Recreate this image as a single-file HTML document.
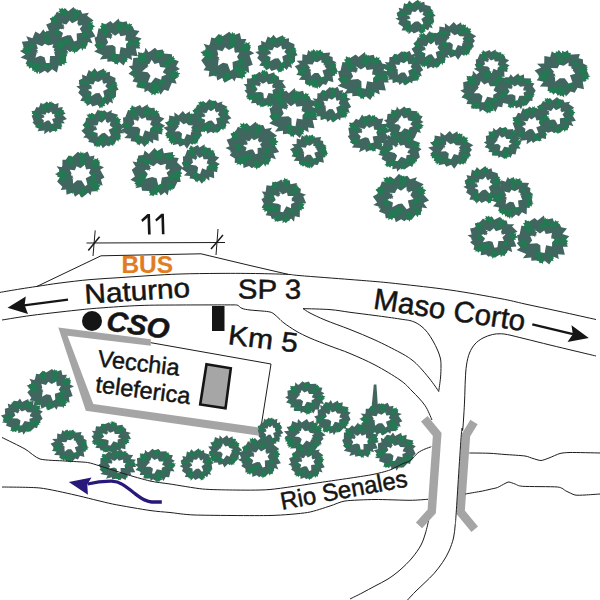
<!DOCTYPE html>
<html><head><meta charset="utf-8"><title>Map</title>
<style>html,body{margin:0;padding:0;background:#fff;}svg{display:block;}</style>
</head><body>
<svg width="600" height="600" viewBox="0 0 600 600">
<defs><g id="tr0"><polygon points="0.944,0.015 0.849,0.060 0.852,0.425 0.662,0.414 0.688,0.614 0.547,0.595 0.482,0.902 0.284,0.759 0.114,0.925 -0.007,0.823 -0.240,0.968 -0.232,0.757 -0.511,0.835 -0.515,0.696 -0.776,0.519 -0.719,0.357 -0.985,0.246 -0.787,0.107 -1.009,-0.039 -0.826,-0.141 -0.934,-0.455 -0.669,-0.485 -0.755,-0.694 -0.505,-0.608 -0.390,-0.906 -0.207,-0.790 -0.067,-1.004 0.032,-0.814 0.181,-0.967 0.250,-0.771 0.497,-0.837 0.459,-0.645 0.851,-0.546 0.747,-0.394 0.875,-0.297 0.825,-0.129" fill="#40665f"/><polygon points="0.537,0.179 0.579,0.113 0.543,0.044 0.664,0.042 0.694,-0.037 0.773,0.027 0.840,-0.015 0.850,0.053 0.941,0.067 0.870,0.126 0.897,0.189 0.818,0.187 0.783,0.283 0.717,0.231 0.612,0.292 0.608,0.214" fill="#227a52"/><polygon points="0.400,0.389 0.479,0.337 0.472,0.244 0.606,0.300 0.677,0.228 0.733,0.337 0.826,0.323 0.805,0.402 0.898,0.461 0.792,0.492 0.790,0.574 0.704,0.534 0.620,0.622 0.572,0.533 0.428,0.549 0.461,0.462" fill="#227a52"/><polygon points="-0.325,0.463 -0.259,0.534 -0.166,0.511 -0.201,0.657 -0.116,0.717 -0.217,0.791 -0.187,0.883 -0.271,0.875 -0.315,0.979 -0.364,0.876 -0.447,0.888 -0.421,0.795 -0.524,0.724 -0.442,0.661 -0.482,0.517 -0.389,0.536" fill="#227a52"/><polygon points="-0.348,0.646 -0.431,0.679 -0.442,0.765 -0.554,0.687 -0.634,0.739 -0.663,0.629 -0.752,0.624 -0.716,0.555 -0.790,0.483 -0.687,0.476 -0.669,0.401 -0.599,0.454 -0.505,0.389 -0.478,0.481 -0.343,0.494 -0.390,0.567" fill="#227a52"/><polygon points="-0.585,0.067 -0.669,0.058 -0.717,0.126 -0.778,0.011 -0.867,0.021 -0.844,-0.085 -0.916,-0.129 -0.857,-0.171 -0.887,-0.264 -0.797,-0.225 -0.749,-0.281 -0.713,-0.205 -0.605,-0.218 -0.623,-0.130 -0.514,-0.059 -0.586,-0.018" fill="#227a52"/><polygon points="-0.081,-0.650 -0.079,-0.725 -0.141,-0.762 -0.044,-0.822 -0.057,-0.900 0.038,-0.886 0.072,-0.952 0.112,-0.902 0.192,-0.934 0.163,-0.852 0.214,-0.814 0.150,-0.778 0.168,-0.684 0.089,-0.694 0.033,-0.595 -0.007,-0.656" fill="#227a52"/><polygon points="0.172,-0.787 0.258,-0.807 0.282,-0.890 0.380,-0.796 0.466,-0.835 0.478,-0.722 0.564,-0.704 0.519,-0.642 0.580,-0.560 0.478,-0.568 0.449,-0.498 0.388,-0.561 0.286,-0.512 0.274,-0.605 0.143,-0.640 0.200,-0.704" fill="#227a52"/><polygon points="0.478,-0.345 0.537,-0.326 0.582,-0.367 0.607,-0.275 0.673,-0.267 0.639,-0.195 0.684,-0.152 0.635,-0.131 0.642,-0.059 0.583,-0.102 0.540,-0.069 0.526,-0.130 0.446,-0.137 0.473,-0.198 0.407,-0.266 0.465,-0.284" fill="#227a52"/><polygon points="0.231,0.529 0.190,0.591 0.222,0.656 0.108,0.655 0.078,0.728 0.005,0.666 -0.058,0.704 -0.066,0.640 -0.151,0.625 -0.083,0.571 -0.106,0.511 -0.032,0.515 0.002,0.425 0.064,0.476 0.164,0.422 0.166,0.494" fill="#227a52"/><polygon points="-0.569,-0.059 -0.600,-0.115 -0.662,-0.116 -0.617,-0.203 -0.662,-0.255 -0.585,-0.286 -0.590,-0.349 -0.538,-0.331 -0.493,-0.390 -0.478,-0.317 -0.423,-0.311 -0.455,-0.256 -0.400,-0.194 -0.462,-0.167 -0.460,-0.069 -0.516,-0.096" fill="#227a52"/><polygon points="-0.052,-0.466 -0.023,-0.519 -0.054,-0.570 0.039,-0.577 0.059,-0.640 0.123,-0.594 0.172,-0.629 0.183,-0.578 0.254,-0.571 0.202,-0.522 0.225,-0.475 0.165,-0.473 0.143,-0.397 0.089,-0.434 0.011,-0.383 0.004,-0.442" fill="#227a52"/><polygon points="0.530,0.271 0.559,0.318 0.612,0.315 0.577,0.394 0.617,0.438 0.554,0.470 0.560,0.525 0.515,0.512 0.479,0.566 0.464,0.503 0.417,0.501 0.441,0.450 0.392,0.399 0.444,0.372 0.438,0.285 0.487,0.306" fill="#40665f"/><polygon points="-0.194,-0.487 -0.217,-0.537 -0.271,-0.541 -0.227,-0.615 -0.261,-0.663 -0.195,-0.687 -0.194,-0.743 -0.151,-0.724 -0.109,-0.775 -0.101,-0.710 -0.055,-0.702 -0.085,-0.655 -0.042,-0.598 -0.097,-0.577 -0.101,-0.491 -0.147,-0.517" fill="#40665f"/><polygon points="-0.597,0.295 -0.653,0.291 -0.681,0.336 -0.726,0.262 -0.784,0.270 -0.773,0.200 -0.823,0.173 -0.785,0.144 -0.809,0.083 -0.749,0.107 -0.720,0.070 -0.693,0.119 -0.622,0.108 -0.630,0.167 -0.556,0.211 -0.601,0.240" fill="#40665f"/><polygon points="-0.211,-0.749 -0.166,-0.781 -0.174,-0.834 -0.092,-0.806 -0.052,-0.849 -0.015,-0.789 0.040,-0.799 0.030,-0.753 0.087,-0.722 0.025,-0.701 0.027,-0.654 -0.025,-0.675 -0.072,-0.621 -0.104,-0.671 -0.190,-0.658 -0.173,-0.709" fill="#40665f"/><polygon points="0.386,0.456 0.425,0.496 0.476,0.481 0.460,0.566 0.509,0.599 0.454,0.644 0.472,0.697 0.425,0.694 0.402,0.755 0.373,0.697 0.327,0.705 0.340,0.651 0.280,0.612 0.325,0.573 0.300,0.490 0.352,0.500" fill="#40665f"/><polygon points="-0.006,-0.369 0.128,-0.283 0.342,-0.346 0.289,-0.208 0.475,-0.097 0.369,0.015 0.409,0.181 0.204,0.180 0.186,0.487 0.042,0.480 -0.019,0.231 -0.186,0.167 -0.389,0.255 -0.334,0.057 -0.458,-0.099 -0.285,-0.146 -0.345,-0.349 -0.119,-0.251" fill="#fff"/><polygon points="-0.546,-0.172 -0.483,-0.175 -0.456,-0.230 -0.397,-0.152 -0.331,-0.169 -0.335,-0.087 -0.276,-0.063 -0.315,-0.025 -0.281,0.041 -0.353,0.021 -0.381,0.068 -0.418,0.016 -0.496,0.037 -0.494,-0.030 -0.584,-0.071 -0.535,-0.109" fill="#40665f"/><polygon points="0.547,-0.187 0.537,-0.140 0.572,-0.112 0.504,-0.081 0.504,-0.031 0.445,-0.047 0.417,-0.007 0.396,-0.042 0.342,-0.027 0.369,-0.077 0.341,-0.105 0.386,-0.123 0.385,-0.184 0.434,-0.171 0.480,-0.230 0.499,-0.189" fill="#40665f"/></g><g id="tr1"><polygon points="0.959,0.017 0.777,0.072 0.904,0.436 0.687,0.460 0.740,0.707 0.576,0.613 0.421,0.882 0.310,0.774 0.076,0.940 0.011,0.810 -0.202,0.920 -0.289,0.805 -0.506,0.850 -0.484,0.621 -0.790,0.587 -0.753,0.407 -0.924,0.243 -0.782,0.111 -1.024,-0.076 -0.860,-0.117 -0.923,-0.399 -0.688,-0.449 -0.736,-0.632 -0.553,-0.665 -0.416,-0.854 -0.306,-0.781 -0.078,-0.958 0.029,-0.799 0.268,-0.941 0.320,-0.776 0.517,-0.762 0.559,-0.596 0.821,-0.595 0.729,-0.485 0.948,-0.244 0.767,-0.145" fill="#40665f"/><polygon points="0.770,-0.222 0.826,-0.161 0.904,-0.179 0.873,-0.056 0.944,-0.004 0.858,0.057 0.882,0.136 0.811,0.127 0.773,0.215 0.733,0.127 0.662,0.137 0.685,0.058 0.599,-0.003 0.669,-0.055 0.637,-0.177 0.716,-0.160" fill="#227a52"/><polygon points="0.407,0.431 0.454,0.516 0.549,0.517 0.480,0.650 0.548,0.729 0.432,0.777 0.438,0.874 0.359,0.845 0.291,0.935 0.268,0.824 0.185,0.815 0.233,0.731 0.149,0.637 0.245,0.596 0.241,0.446 0.327,0.487" fill="#227a52"/><polygon points="0.061,0.601 0.098,0.671 0.175,0.673 0.117,0.779 0.170,0.844 0.076,0.881 0.079,0.959 0.015,0.934 -0.042,1.006 -0.057,0.916 -0.125,0.907 -0.085,0.840 -0.150,0.763 -0.072,0.731 -0.073,0.610 -0.004,0.645" fill="#227a52"/><polygon points="-0.321,0.420 -0.349,0.508 -0.287,0.574 -0.423,0.614 -0.433,0.713 -0.542,0.664 -0.605,0.732 -0.637,0.659 -0.744,0.671 -0.682,0.583 -0.731,0.519 -0.641,0.497 -0.632,0.378 -0.541,0.416 -0.440,0.316 -0.412,0.402" fill="#227a52"/><polygon points="-0.641,-0.336 -0.673,-0.408 -0.750,-0.415 -0.685,-0.517 -0.734,-0.585 -0.638,-0.615 -0.636,-0.694 -0.575,-0.665 -0.514,-0.733 -0.503,-0.642 -0.436,-0.629 -0.481,-0.565 -0.420,-0.484 -0.500,-0.457 -0.507,-0.337 -0.573,-0.376" fill="#227a52"/><polygon points="-0.035,-0.614 -0.122,-0.629 -0.177,-0.563 -0.231,-0.688 -0.325,-0.686 -0.291,-0.794 -0.363,-0.846 -0.297,-0.885 -0.321,-0.984 -0.230,-0.936 -0.176,-0.990 -0.145,-0.907 -0.031,-0.912 -0.057,-0.821 0.050,-0.738 -0.029,-0.701" fill="#227a52"/><polygon points="0.313,-0.468 0.260,-0.527 0.184,-0.509 0.214,-0.627 0.145,-0.678 0.228,-0.737 0.205,-0.813 0.273,-0.805 0.311,-0.889 0.349,-0.805 0.417,-0.814 0.395,-0.738 0.479,-0.679 0.411,-0.629 0.442,-0.511 0.366,-0.527" fill="#227a52"/><polygon points="0.596,0.193 0.594,0.258 0.649,0.291 0.564,0.343 0.576,0.411 0.494,0.399 0.464,0.457 0.429,0.414 0.359,0.442 0.384,0.371 0.339,0.337 0.395,0.305 0.379,0.224 0.448,0.232 0.496,0.145 0.532,0.198" fill="#227a52"/><polygon points="-0.096,0.516 -0.163,0.541 -0.174,0.610 -0.263,0.546 -0.328,0.586 -0.350,0.497 -0.421,0.491 -0.392,0.436 -0.450,0.377 -0.367,0.373 -0.351,0.313 -0.295,0.357 -0.218,0.306 -0.198,0.380 -0.089,0.394 -0.128,0.452" fill="#227a52"/><polygon points="-0.590,0.141 -0.622,0.084 -0.686,0.083 -0.640,-0.007 -0.685,-0.060 -0.607,-0.092 -0.611,-0.158 -0.557,-0.138 -0.511,-0.200 -0.496,-0.124 -0.439,-0.118 -0.472,-0.061 -0.415,0.002 -0.480,0.030 -0.478,0.131 -0.536,0.104" fill="#227a52"/><polygon points="0.015,-0.627 0.089,-0.643 0.110,-0.714 0.193,-0.633 0.267,-0.666 0.276,-0.569 0.350,-0.553 0.311,-0.500 0.362,-0.430 0.275,-0.438 0.250,-0.378 0.198,-0.432 0.110,-0.391 0.101,-0.471 -0.011,-0.501 0.039,-0.556" fill="#227a52"/><polygon points="-0.243,-0.437 -0.272,-0.485 -0.326,-0.482 -0.291,-0.561 -0.331,-0.604 -0.268,-0.636 -0.274,-0.692 -0.229,-0.678 -0.194,-0.733 -0.178,-0.670 -0.131,-0.668 -0.155,-0.617 -0.106,-0.566 -0.158,-0.539 -0.151,-0.452 -0.200,-0.473" fill="#40665f"/><polygon points="0.111,0.530 0.167,0.529 0.191,0.482 0.242,0.552 0.300,0.539 0.295,0.610 0.346,0.633 0.311,0.665 0.340,0.723 0.278,0.704 0.252,0.744 0.221,0.697 0.152,0.714 0.155,0.655 0.077,0.617 0.120,0.585" fill="#40665f"/><polygon points="0.329,0.477 0.380,0.456 0.385,0.403 0.458,0.448 0.507,0.415 0.529,0.482 0.585,0.484 0.565,0.527 0.614,0.570 0.549,0.576 0.540,0.623 0.494,0.591 0.436,0.633 0.416,0.577 0.330,0.571 0.357,0.525" fill="#40665f"/><polygon points="-0.621,0.167 -0.674,0.185 -0.682,0.238 -0.752,0.187 -0.803,0.218 -0.821,0.149 -0.877,0.144 -0.854,0.102 -0.900,0.056 -0.835,0.054 -0.823,0.008 -0.779,0.043 -0.719,0.005 -0.702,0.062 -0.617,0.074 -0.647,0.117" fill="#40665f"/><polygon points="-0.040,-0.664 0.012,-0.684 0.018,-0.737 0.090,-0.690 0.139,-0.722 0.160,-0.654 0.216,-0.651 0.195,-0.609 0.243,-0.564 0.178,-0.560 0.168,-0.514 0.122,-0.546 0.063,-0.506 0.045,-0.562 -0.041,-0.571 -0.013,-0.616" fill="#40665f"/><polygon points="0.010,-0.408 0.097,-0.271 0.336,-0.357 0.291,-0.206 0.475,-0.112 0.351,0.009 0.413,0.189 0.195,0.180 0.154,0.475 0.035,0.494 -0.041,0.219 -0.176,0.188 -0.420,0.243 -0.331,0.071 -0.479,-0.087 -0.294,-0.162 -0.338,-0.349 -0.137,-0.260" fill="#fff"/><polygon points="-0.420,-0.369 -0.361,-0.345 -0.313,-0.384 -0.292,-0.288 -0.226,-0.275 -0.264,-0.203 -0.220,-0.157 -0.272,-0.139 -0.269,-0.064 -0.326,-0.112 -0.371,-0.082 -0.382,-0.145 -0.462,-0.158 -0.432,-0.219 -0.496,-0.293 -0.436,-0.308" fill="#40665f"/><polygon points="0.477,-0.311 0.479,-0.263 0.521,-0.245 0.463,-0.197 0.476,-0.149 0.415,-0.149 0.397,-0.103 0.369,-0.132 0.320,-0.103 0.334,-0.158 0.299,-0.178 0.338,-0.207 0.321,-0.265 0.372,-0.266 0.401,-0.335 0.430,-0.300" fill="#40665f"/></g><g id="tr2"><polygon points="0.992,0.101 0.810,0.134 0.937,0.442 0.682,0.460 0.744,0.643 0.548,0.583 0.436,0.925 0.233,0.799 0.117,0.928 -0.008,0.826 -0.246,0.891 -0.268,0.759 -0.570,0.850 -0.476,0.652 -0.857,0.562 -0.735,0.441 -0.897,0.285 -0.843,0.220 -0.946,-0.024 -0.856,-0.075 -0.850,-0.439 -0.725,-0.433 -0.754,-0.693 -0.606,-0.638 -0.421,-0.826 -0.299,-0.741 -0.101,-0.984 -0.037,-0.814 0.239,-0.932 0.334,-0.743 0.524,-0.759 0.612,-0.626 0.831,-0.621 0.702,-0.364 0.972,-0.321 0.838,-0.127" fill="#40665f"/><polygon points="0.585,-0.232 0.671,-0.247 0.700,-0.327 0.792,-0.230 0.879,-0.264 0.885,-0.152 0.969,-0.129 0.921,-0.070 0.977,0.014 0.877,0.000 0.845,0.069 0.788,0.003 0.684,0.046 0.677,-0.047 0.549,-0.087 0.609,-0.148" fill="#227a52"/><polygon points="0.242,0.547 0.316,0.535 0.342,0.466 0.420,0.551 0.495,0.523 0.498,0.619 0.570,0.640 0.528,0.690 0.575,0.763 0.489,0.750 0.461,0.808 0.413,0.751 0.323,0.787 0.318,0.707 0.210,0.670 0.262,0.619" fill="#227a52"/><polygon points="-0.031,0.564 0.051,0.588 0.110,0.530 0.149,0.655 0.239,0.663 0.196,0.763 0.259,0.820 0.192,0.850 0.205,0.948 0.123,0.893 0.066,0.939 0.044,0.857 -0.065,0.850 -0.031,0.765 -0.125,0.675 -0.046,0.648" fill="#227a52"/><polygon points="-0.475,0.245 -0.527,0.304 -0.502,0.376 -0.621,0.360 -0.663,0.432 -0.730,0.357 -0.801,0.388 -0.801,0.320 -0.887,0.292 -0.809,0.246 -0.825,0.180 -0.748,0.194 -0.700,0.106 -0.643,0.167 -0.531,0.124 -0.539,0.200" fill="#227a52"/><polygon points="-0.472,-0.287 -0.563,-0.305 -0.622,-0.235 -0.677,-0.367 -0.777,-0.366 -0.741,-0.480 -0.816,-0.535 -0.746,-0.576 -0.770,-0.682 -0.675,-0.629 -0.617,-0.686 -0.584,-0.598 -0.465,-0.602 -0.493,-0.507 -0.381,-0.417 -0.464,-0.380" fill="#227a52"/><polygon points="0.099,-0.558 0.032,-0.589 -0.026,-0.547 -0.044,-0.658 -0.121,-0.676 -0.071,-0.757 -0.118,-0.813 -0.057,-0.831 -0.056,-0.917 0.007,-0.859 0.063,-0.891 0.071,-0.818 0.164,-0.799 0.124,-0.731 0.193,-0.641 0.123,-0.628" fill="#227a52"/><polygon points="0.213,-0.553 0.212,-0.631 0.145,-0.668 0.245,-0.736 0.227,-0.818 0.328,-0.808 0.360,-0.879 0.405,-0.828 0.489,-0.866 0.462,-0.778 0.518,-0.740 0.451,-0.699 0.475,-0.600 0.391,-0.607 0.337,-0.500 0.291,-0.562" fill="#227a52"/><polygon points="0.615,-0.195 0.633,-0.123 0.703,-0.104 0.627,-0.019 0.661,0.053 0.566,0.065 0.552,0.138 0.499,0.101 0.430,0.155 0.436,0.068 0.375,0.045 0.427,-0.008 0.384,-0.093 0.463,-0.106 0.489,-0.217 0.545,-0.170" fill="#227a52"/><polygon points="0.200,0.618 0.135,0.658 0.138,0.733 0.032,0.685 -0.027,0.741 -0.069,0.652 -0.145,0.661 -0.126,0.598 -0.199,0.548 -0.113,0.526 -0.110,0.460 -0.042,0.494 0.028,0.425 0.065,0.498 0.181,0.489 0.153,0.558" fill="#227a52"/><polygon points="-0.614,-0.194 -0.614,-0.256 -0.667,-0.286 -0.588,-0.338 -0.601,-0.403 -0.522,-0.393 -0.496,-0.449 -0.461,-0.408 -0.395,-0.437 -0.417,-0.369 -0.373,-0.338 -0.426,-0.306 -0.408,-0.229 -0.474,-0.235 -0.518,-0.151 -0.553,-0.201" fill="#227a52"/><polygon points="-0.194,-0.588 -0.144,-0.624 -0.150,-0.684 -0.061,-0.650 -0.016,-0.698 0.022,-0.628 0.083,-0.638 0.070,-0.586 0.131,-0.549 0.063,-0.528 0.063,-0.474 0.006,-0.499 -0.047,-0.440 -0.080,-0.497 -0.174,-0.485 -0.154,-0.542" fill="#227a52"/><polygon points="0.203,0.460 0.227,0.510 0.281,0.511 0.239,0.587 0.275,0.634 0.209,0.660 0.211,0.716 0.167,0.698 0.127,0.750 0.117,0.685 0.070,0.679 0.099,0.631 0.054,0.576 0.109,0.553 0.110,0.466 0.157,0.491" fill="#40665f"/><polygon points="-0.556,-0.491 -0.535,-0.543 -0.570,-0.584 -0.485,-0.603 -0.475,-0.661 -0.411,-0.629 -0.370,-0.668 -0.354,-0.623 -0.289,-0.628 -0.330,-0.577 -0.304,-0.538 -0.359,-0.528 -0.370,-0.457 -0.424,-0.483 -0.489,-0.426 -0.502,-0.478" fill="#40665f"/><polygon points="0.479,-0.543 0.531,-0.522 0.572,-0.556 0.591,-0.472 0.649,-0.461 0.617,-0.397 0.655,-0.356 0.611,-0.340 0.614,-0.275 0.564,-0.317 0.525,-0.291 0.515,-0.346 0.445,-0.358 0.470,-0.411 0.414,-0.476 0.466,-0.489" fill="#40665f"/><polygon points="0.506,-0.338 0.561,-0.341 0.584,-0.389 0.637,-0.320 0.695,-0.335 0.692,-0.264 0.744,-0.242 0.710,-0.209 0.741,-0.152 0.677,-0.169 0.653,-0.128 0.620,-0.174 0.552,-0.156 0.553,-0.215 0.474,-0.251 0.516,-0.284" fill="#40665f"/><polygon points="0.409,0.637 0.375,0.681 0.397,0.730 0.310,0.726 0.284,0.779 0.232,0.731 0.182,0.757 0.179,0.710 0.115,0.697 0.168,0.659 0.153,0.615 0.209,0.619 0.239,0.555 0.284,0.593 0.362,0.556 0.360,0.610" fill="#40665f"/><polygon points="0.016,-0.388 0.096,-0.265 0.315,-0.339 0.320,-0.185 0.457,-0.088 0.384,0.021 0.413,0.192 0.186,0.186 0.187,0.495 0.034,0.497 -0.024,0.221 -0.158,0.158 -0.431,0.228 -0.356,0.081 -0.460,-0.087 -0.312,-0.136 -0.352,-0.364 -0.122,-0.247" fill="#fff"/><polygon points="-0.420,-0.369 -0.361,-0.345 -0.313,-0.384 -0.292,-0.288 -0.226,-0.275 -0.264,-0.203 -0.220,-0.157 -0.272,-0.139 -0.269,-0.064 -0.326,-0.112 -0.371,-0.082 -0.382,-0.145 -0.462,-0.158 -0.432,-0.219 -0.496,-0.293 -0.436,-0.308" fill="#40665f"/><polygon points="0.477,-0.311 0.479,-0.263 0.521,-0.245 0.463,-0.197 0.476,-0.149 0.415,-0.149 0.397,-0.103 0.369,-0.132 0.320,-0.103 0.334,-0.158 0.299,-0.178 0.338,-0.207 0.321,-0.265 0.372,-0.266 0.401,-0.335 0.430,-0.300" fill="#40665f"/></g><g id="tr3"><polygon points="1.021,0.021 0.837,0.071 0.892,0.434 0.725,0.468 0.709,0.723 0.542,0.608 0.369,0.858 0.193,0.813 0.116,0.944 0.049,0.817 -0.259,0.920 -0.301,0.727 -0.504,0.795 -0.513,0.589 -0.794,0.595 -0.732,0.387 -0.942,0.324 -0.835,0.219 -0.959,-0.060 -0.791,-0.184 -0.934,-0.380 -0.677,-0.397 -0.764,-0.667 -0.558,-0.555 -0.442,-0.845 -0.316,-0.798 -0.149,-0.930 -0.021,-0.822 0.253,-0.944 0.358,-0.783 0.627,-0.829 0.638,-0.595 0.827,-0.568 0.730,-0.411 0.938,-0.228 0.862,-0.123" fill="#40665f"/><polygon points="0.587,-0.095 0.593,-0.187 0.518,-0.236 0.640,-0.306 0.627,-0.403 0.743,-0.381 0.788,-0.461 0.836,-0.398 0.936,-0.434 0.897,-0.335 0.959,-0.285 0.878,-0.243 0.896,-0.127 0.799,-0.142 0.726,-0.022 0.679,-0.099" fill="#227a52"/><polygon points="0.467,0.423 0.521,0.501 0.614,0.492 0.560,0.628 0.634,0.698 0.526,0.756 0.542,0.849 0.462,0.829 0.405,0.924 0.372,0.818 0.290,0.818 0.328,0.731 0.238,0.649 0.326,0.599 0.308,0.454 0.395,0.486" fill="#227a52"/><polygon points="0.016,0.600 0.003,0.678 0.064,0.726 -0.047,0.776 -0.044,0.860 -0.142,0.832 -0.187,0.897 -0.222,0.838 -0.311,0.861 -0.269,0.779 -0.318,0.731 -0.245,0.702 -0.251,0.601 -0.169,0.622 -0.096,0.525 -0.062,0.595" fill="#227a52"/><polygon points="-0.347,0.480 -0.402,0.533 -0.384,0.605 -0.498,0.579 -0.545,0.646 -0.603,0.567 -0.676,0.591 -0.669,0.525 -0.751,0.491 -0.671,0.452 -0.681,0.387 -0.608,0.407 -0.553,0.325 -0.503,0.390 -0.390,0.358 -0.404,0.431" fill="#227a52"/><polygon points="-0.670,-0.006 -0.739,-0.073 -0.830,-0.046 -0.804,-0.191 -0.891,-0.247 -0.795,-0.326 -0.829,-0.415 -0.746,-0.411 -0.707,-0.517 -0.654,-0.418 -0.572,-0.434 -0.593,-0.340 -0.486,-0.276 -0.564,-0.209 -0.517,-0.069 -0.611,-0.082" fill="#227a52"/><polygon points="-0.254,-0.532 -0.273,-0.610 -0.349,-0.631 -0.266,-0.722 -0.303,-0.800 -0.201,-0.813 -0.185,-0.892 -0.128,-0.852 -0.054,-0.909 -0.060,-0.816 0.005,-0.791 -0.051,-0.734 -0.005,-0.642 -0.090,-0.629 -0.119,-0.509 -0.178,-0.560" fill="#227a52"/><polygon points="0.349,-0.526 0.299,-0.583 0.226,-0.568 0.257,-0.681 0.192,-0.730 0.273,-0.785 0.252,-0.858 0.318,-0.849 0.355,-0.930 0.390,-0.848 0.456,-0.856 0.433,-0.783 0.512,-0.725 0.446,-0.678 0.473,-0.564 0.401,-0.582" fill="#227a52"/><polygon points="0.497,0.078 0.547,0.132 0.617,0.115 0.592,0.224 0.656,0.270 0.580,0.326 0.603,0.396 0.540,0.390 0.506,0.468 0.469,0.391 0.406,0.401 0.426,0.330 0.347,0.277 0.409,0.229 0.378,0.120 0.449,0.134" fill="#227a52"/><polygon points="0.414,0.395 0.398,0.470 0.454,0.520 0.345,0.563 0.344,0.645 0.251,0.613 0.204,0.673 0.172,0.615 0.085,0.633 0.129,0.556 0.084,0.508 0.156,0.482 0.155,0.384 0.233,0.409 0.308,0.318 0.338,0.387" fill="#227a52"/><polygon points="-0.683,-0.034 -0.678,-0.101 -0.733,-0.136 -0.644,-0.187 -0.654,-0.257 -0.570,-0.242 -0.538,-0.300 -0.503,-0.254 -0.430,-0.280 -0.459,-0.208 -0.414,-0.172 -0.473,-0.142 -0.459,-0.057 -0.529,-0.069 -0.582,0.018 -0.617,-0.037" fill="#227a52"/><polygon points="0.207,-0.595 0.267,-0.572 0.316,-0.612 0.337,-0.516 0.406,-0.504 0.367,-0.431 0.412,-0.384 0.359,-0.365 0.363,-0.290 0.305,-0.337 0.258,-0.306 0.247,-0.369 0.164,-0.380 0.195,-0.442 0.129,-0.516 0.190,-0.532" fill="#227a52"/><polygon points="0.251,0.522 0.244,0.578 0.289,0.608 0.213,0.649 0.218,0.708 0.148,0.695 0.119,0.743 0.092,0.704 0.030,0.726 0.057,0.666 0.020,0.636 0.071,0.611 0.063,0.540 0.121,0.550 0.169,0.478 0.195,0.524" fill="#40665f"/><polygon points="0.626,0.236 0.661,0.279 0.713,0.269 0.690,0.352 0.736,0.390 0.677,0.430 0.691,0.484 0.644,0.477 0.616,0.536 0.592,0.475 0.545,0.479 0.563,0.426 0.507,0.382 0.555,0.348 0.537,0.263 0.588,0.277" fill="#40665f"/><polygon points="0.592,0.076 0.610,0.024 0.574,-0.015 0.657,-0.039 0.665,-0.098 0.730,-0.069 0.769,-0.109 0.787,-0.066 0.852,-0.073 0.813,-0.021 0.841,0.017 0.787,0.030 0.779,0.101 0.724,0.078 0.662,0.138 0.646,0.087" fill="#40665f"/><polygon points="-0.340,-0.466 -0.391,-0.443 -0.394,-0.390 -0.469,-0.433 -0.516,-0.398 -0.540,-0.465 -0.597,-0.465 -0.578,-0.509 -0.628,-0.551 -0.563,-0.559 -0.556,-0.605 -0.508,-0.575 -0.452,-0.618 -0.430,-0.563 -0.344,-0.559 -0.370,-0.513" fill="#40665f"/><polygon points="-0.366,0.443 -0.399,0.487 -0.375,0.535 -0.462,0.534 -0.487,0.588 -0.540,0.541 -0.589,0.569 -0.594,0.522 -0.658,0.510 -0.606,0.471 -0.622,0.427 -0.566,0.430 -0.538,0.365 -0.492,0.402 -0.415,0.363 -0.415,0.416" fill="#40665f"/><polygon points="-0.006,-0.393 0.119,-0.263 0.326,-0.338 0.325,-0.165 0.486,-0.097 0.368,0.040 0.414,0.172 0.172,0.204 0.142,0.476 0.032,0.519 -0.019,0.237 -0.182,0.169 -0.387,0.249 -0.324,0.047 -0.458,-0.063 -0.301,-0.163 -0.308,-0.352 -0.126,-0.258" fill="#fff"/><polygon points="-0.546,-0.172 -0.483,-0.175 -0.456,-0.230 -0.397,-0.152 -0.331,-0.169 -0.335,-0.087 -0.276,-0.063 -0.315,-0.025 -0.281,0.041 -0.353,0.021 -0.381,0.068 -0.418,0.016 -0.496,0.037 -0.494,-0.030 -0.584,-0.071 -0.535,-0.109" fill="#40665f"/><polygon points="0.477,-0.311 0.479,-0.263 0.521,-0.245 0.463,-0.197 0.476,-0.149 0.415,-0.149 0.397,-0.103 0.369,-0.132 0.320,-0.103 0.334,-0.158 0.299,-0.178 0.338,-0.207 0.321,-0.265 0.372,-0.266 0.401,-0.335 0.430,-0.300" fill="#40665f"/></g><g id="tr4"><polygon points="0.929,0.054 0.833,0.093 0.878,0.389 0.756,0.387 0.631,0.682 0.456,0.641 0.394,0.944 0.287,0.813 0.134,0.946 0.066,0.801 -0.212,0.942 -0.293,0.758 -0.554,0.754 -0.580,0.597 -0.801,0.653 -0.697,0.463 -0.985,0.295 -0.817,0.161 -0.935,-0.117 -0.792,-0.235 -0.908,-0.450 -0.753,-0.426 -0.691,-0.696 -0.505,-0.721 -0.457,-0.908 -0.299,-0.760 -0.080,-1.023 -0.014,-0.858 0.198,-1.014 0.253,-0.794 0.599,-0.842 0.574,-0.630 0.808,-0.594 0.741,-0.424 0.940,-0.213 0.869,-0.043" fill="#40665f"/><polygon points="0.791,-0.082 0.834,-0.015 0.912,-0.019 0.862,0.093 0.921,0.155 0.829,0.199 0.839,0.278 0.772,0.259 0.721,0.336 0.697,0.246 0.628,0.243 0.663,0.172 0.590,0.099 0.666,0.060 0.656,-0.062 0.728,-0.032" fill="#227a52"/><polygon points="0.487,0.371 0.539,0.428 0.613,0.412 0.584,0.527 0.651,0.577 0.569,0.635 0.592,0.709 0.525,0.701 0.488,0.784 0.451,0.701 0.384,0.710 0.406,0.635 0.324,0.578 0.391,0.528 0.360,0.412 0.435,0.429" fill="#227a52"/><polygon points="0.071,0.627 0.062,0.719 0.135,0.771 0.010,0.836 0.020,0.934 -0.095,0.908 -0.143,0.987 -0.189,0.922 -0.290,0.954 -0.247,0.856 -0.308,0.804 -0.225,0.765 -0.239,0.648 -0.143,0.667 -0.065,0.549 -0.021,0.628" fill="#227a52"/><polygon points="-0.553,0.216 -0.542,0.298 -0.468,0.328 -0.563,0.411 -0.535,0.495 -0.641,0.496 -0.666,0.574 -0.719,0.526 -0.801,0.576 -0.784,0.482 -0.847,0.449 -0.783,0.397 -0.819,0.298 -0.731,0.295 -0.688,0.176 -0.633,0.235" fill="#227a52"/><polygon points="-0.338,-0.428 -0.414,-0.392 -0.420,-0.309 -0.531,-0.376 -0.604,-0.322 -0.638,-0.425 -0.722,-0.425 -0.693,-0.492 -0.767,-0.556 -0.670,-0.569 -0.658,-0.641 -0.587,-0.595 -0.502,-0.662 -0.471,-0.577 -0.342,-0.572 -0.382,-0.500" fill="#227a52"/><polygon points="0.120,-0.539 0.044,-0.576 -0.024,-0.528 -0.042,-0.657 -0.130,-0.679 -0.071,-0.771 -0.125,-0.837 -0.054,-0.856 -0.050,-0.955 0.021,-0.887 0.085,-0.923 0.093,-0.839 0.200,-0.814 0.153,-0.737 0.230,-0.633 0.149,-0.619" fill="#227a52"/><polygon points="0.272,-0.603 0.317,-0.670 0.282,-0.740 0.406,-0.739 0.439,-0.818 0.517,-0.750 0.586,-0.791 0.594,-0.722 0.687,-0.705 0.613,-0.647 0.638,-0.582 0.557,-0.586 0.519,-0.490 0.453,-0.545 0.344,-0.486 0.343,-0.565" fill="#227a52"/><polygon points="0.692,0.070 0.682,0.142 0.739,0.184 0.639,0.232 0.645,0.309 0.555,0.286 0.516,0.346 0.482,0.295 0.402,0.318 0.437,0.242 0.391,0.200 0.457,0.171 0.449,0.079 0.524,0.096 0.587,0.006 0.620,0.068" fill="#227a52"/><polygon points="0.235,0.454 0.221,0.529 0.278,0.576 0.170,0.622 0.171,0.703 0.078,0.674 0.034,0.735 0.001,0.679 -0.085,0.699 -0.043,0.621 -0.089,0.574 -0.019,0.547 -0.022,0.450 0.056,0.472 0.128,0.380 0.159,0.448" fill="#227a52"/><polygon points="-0.400,0.265 -0.461,0.263 -0.491,0.314 -0.541,0.236 -0.605,0.247 -0.594,0.170 -0.648,0.143 -0.607,0.109 -0.634,0.044 -0.567,0.067 -0.536,0.025 -0.506,0.077 -0.430,0.062 -0.437,0.126 -0.356,0.171 -0.405,0.205" fill="#227a52"/><polygon points="-0.412,-0.384 -0.403,-0.447 -0.453,-0.485 -0.364,-0.527 -0.368,-0.595 -0.289,-0.574 -0.254,-0.627 -0.224,-0.581 -0.152,-0.601 -0.185,-0.534 -0.145,-0.496 -0.203,-0.471 -0.196,-0.390 -0.263,-0.406 -0.320,-0.326 -0.349,-0.382" fill="#227a52"/><polygon points="0.454,-0.238 0.438,-0.291 0.386,-0.302 0.439,-0.370 0.410,-0.422 0.480,-0.437 0.487,-0.493 0.528,-0.468 0.576,-0.513 0.575,-0.447 0.620,-0.434 0.584,-0.391 0.620,-0.329 0.562,-0.315 0.547,-0.230 0.504,-0.262" fill="#40665f"/><polygon points="-0.710,-0.277 -0.709,-0.332 -0.755,-0.359 -0.683,-0.407 -0.693,-0.465 -0.623,-0.457 -0.598,-0.507 -0.567,-0.471 -0.508,-0.498 -0.529,-0.436 -0.490,-0.409 -0.538,-0.380 -0.524,-0.310 -0.583,-0.315 -0.625,-0.239 -0.655,-0.283" fill="#40665f"/><polygon points="0.181,0.583 0.236,0.578 0.257,0.528 0.313,0.594 0.369,0.577 0.370,0.648 0.423,0.667 0.391,0.702 0.424,0.758 0.361,0.744 0.338,0.785 0.303,0.741 0.236,0.763 0.234,0.704 0.154,0.672 0.194,0.637" fill="#40665f"/><polygon points="-0.069,0.607 -0.103,0.651 -0.081,0.700 -0.167,0.696 -0.193,0.749 -0.246,0.701 -0.296,0.726 -0.299,0.679 -0.363,0.666 -0.309,0.628 -0.324,0.584 -0.268,0.588 -0.238,0.524 -0.194,0.563 -0.115,0.526 -0.117,0.580" fill="#40665f"/><polygon points="-0.214,-0.536 -0.269,-0.526 -0.285,-0.476 -0.347,-0.536 -0.402,-0.515 -0.408,-0.585 -0.463,-0.599 -0.434,-0.637 -0.472,-0.690 -0.407,-0.681 -0.388,-0.725 -0.350,-0.684 -0.285,-0.711 -0.278,-0.653 -0.195,-0.628 -0.232,-0.589" fill="#40665f"/><polygon points="0.000,-0.394 0.132,-0.296 0.339,-0.360 0.311,-0.198 0.487,-0.109 0.353,0.012 0.424,0.167 0.182,0.203 0.145,0.464 0.044,0.518 -0.016,0.239 -0.179,0.184 -0.431,0.256 -0.339,0.058 -0.457,-0.092 -0.302,-0.142 -0.310,-0.352 -0.130,-0.256" fill="#fff"/><polygon points="-0.420,-0.369 -0.361,-0.345 -0.313,-0.384 -0.292,-0.288 -0.226,-0.275 -0.264,-0.203 -0.220,-0.157 -0.272,-0.139 -0.269,-0.064 -0.326,-0.112 -0.371,-0.082 -0.382,-0.145 -0.462,-0.158 -0.432,-0.219 -0.496,-0.293 -0.436,-0.308" fill="#40665f"/><polygon points="0.477,-0.311 0.479,-0.263 0.521,-0.245 0.463,-0.197 0.476,-0.149 0.415,-0.149 0.397,-0.103 0.369,-0.132 0.320,-0.103 0.334,-0.158 0.299,-0.178 0.338,-0.207 0.321,-0.265 0.372,-0.266 0.401,-0.335 0.430,-0.300" fill="#40665f"/></g><g id="trs0"><polygon points="0.959,0.017 0.777,0.072 0.904,0.436 0.687,0.460 0.740,0.707 0.576,0.613 0.421,0.882 0.310,0.774 0.076,0.940 0.011,0.810 -0.202,0.920 -0.289,0.805 -0.506,0.850 -0.484,0.621 -0.790,0.587 -0.753,0.407 -0.924,0.243 -0.782,0.111 -1.024,-0.076 -0.860,-0.117 -0.923,-0.399 -0.688,-0.449 -0.736,-0.632 -0.553,-0.665 -0.416,-0.854 -0.306,-0.781 -0.078,-0.958 0.029,-0.799 0.268,-0.941 0.320,-0.776 0.517,-0.762 0.559,-0.596 0.821,-0.595 0.729,-0.485 0.948,-0.244 0.767,-0.145" fill="#40665f"/><polygon points="0.770,-0.222 0.826,-0.161 0.904,-0.179 0.873,-0.056 0.944,-0.004 0.858,0.057 0.882,0.136 0.811,0.127 0.773,0.215 0.733,0.127 0.662,0.137 0.685,0.058 0.599,-0.003 0.669,-0.055 0.637,-0.177 0.716,-0.160" fill="#227a52"/><polygon points="0.407,0.431 0.454,0.516 0.549,0.517 0.480,0.650 0.548,0.729 0.432,0.777 0.438,0.874 0.359,0.845 0.291,0.935 0.268,0.824 0.185,0.815 0.233,0.731 0.149,0.637 0.245,0.596 0.241,0.446 0.327,0.487" fill="#227a52"/><polygon points="0.061,0.601 0.098,0.671 0.175,0.673 0.117,0.779 0.170,0.844 0.076,0.881 0.079,0.959 0.015,0.934 -0.042,1.006 -0.057,0.916 -0.125,0.907 -0.085,0.840 -0.150,0.763 -0.072,0.731 -0.073,0.610 -0.004,0.645" fill="#227a52"/><polygon points="-0.321,0.420 -0.349,0.508 -0.287,0.574 -0.423,0.614 -0.433,0.713 -0.542,0.664 -0.605,0.732 -0.637,0.659 -0.744,0.671 -0.682,0.583 -0.731,0.519 -0.641,0.497 -0.632,0.378 -0.541,0.416 -0.440,0.316 -0.412,0.402" fill="#227a52"/><polygon points="-0.641,-0.336 -0.673,-0.408 -0.750,-0.415 -0.685,-0.517 -0.734,-0.585 -0.638,-0.615 -0.636,-0.694 -0.575,-0.665 -0.514,-0.733 -0.503,-0.642 -0.436,-0.629 -0.481,-0.565 -0.420,-0.484 -0.500,-0.457 -0.507,-0.337 -0.573,-0.376" fill="#227a52"/><polygon points="-0.035,-0.614 -0.122,-0.629 -0.177,-0.563 -0.231,-0.688 -0.325,-0.686 -0.291,-0.794 -0.363,-0.846 -0.297,-0.885 -0.321,-0.984 -0.230,-0.936 -0.176,-0.990 -0.145,-0.907 -0.031,-0.912 -0.057,-0.821 0.050,-0.738 -0.029,-0.701" fill="#227a52"/><polygon points="0.313,-0.468 0.260,-0.527 0.184,-0.509 0.214,-0.627 0.145,-0.678 0.228,-0.737 0.205,-0.813 0.273,-0.805 0.311,-0.889 0.349,-0.805 0.417,-0.814 0.395,-0.738 0.479,-0.679 0.411,-0.629 0.442,-0.511 0.366,-0.527" fill="#227a52"/><polygon points="0.596,0.193 0.594,0.258 0.649,0.291 0.564,0.343 0.576,0.411 0.494,0.399 0.464,0.457 0.429,0.414 0.359,0.442 0.384,0.371 0.339,0.337 0.395,0.305 0.379,0.224 0.448,0.232 0.496,0.145 0.532,0.198" fill="#227a52"/><polygon points="-0.096,0.516 -0.163,0.541 -0.174,0.610 -0.263,0.546 -0.328,0.586 -0.350,0.497 -0.421,0.491 -0.392,0.436 -0.450,0.377 -0.367,0.373 -0.351,0.313 -0.295,0.357 -0.218,0.306 -0.198,0.380 -0.089,0.394 -0.128,0.452" fill="#227a52"/><polygon points="-0.590,0.141 -0.622,0.084 -0.686,0.083 -0.640,-0.007 -0.685,-0.060 -0.607,-0.092 -0.611,-0.158 -0.557,-0.138 -0.511,-0.200 -0.496,-0.124 -0.439,-0.118 -0.472,-0.061 -0.415,0.002 -0.480,0.030 -0.478,0.131 -0.536,0.104" fill="#227a52"/><polygon points="0.015,-0.627 0.089,-0.643 0.110,-0.714 0.193,-0.633 0.267,-0.666 0.276,-0.569 0.350,-0.553 0.311,-0.500 0.362,-0.430 0.275,-0.438 0.250,-0.378 0.198,-0.432 0.110,-0.391 0.101,-0.471 -0.011,-0.501 0.039,-0.556" fill="#227a52"/><polygon points="-0.243,-0.437 -0.272,-0.485 -0.326,-0.482 -0.291,-0.561 -0.331,-0.604 -0.268,-0.636 -0.274,-0.692 -0.229,-0.678 -0.194,-0.733 -0.178,-0.670 -0.131,-0.668 -0.155,-0.617 -0.106,-0.566 -0.158,-0.539 -0.151,-0.452 -0.200,-0.473" fill="#40665f"/><polygon points="0.111,0.530 0.167,0.529 0.191,0.482 0.242,0.552 0.300,0.539 0.295,0.610 0.346,0.633 0.311,0.665 0.340,0.723 0.278,0.704 0.252,0.744 0.221,0.697 0.152,0.714 0.155,0.655 0.077,0.617 0.120,0.585" fill="#40665f"/><polygon points="0.329,0.477 0.380,0.456 0.385,0.403 0.458,0.448 0.507,0.415 0.529,0.482 0.585,0.484 0.565,0.527 0.614,0.570 0.549,0.576 0.540,0.623 0.494,0.591 0.436,0.633 0.416,0.577 0.330,0.571 0.357,0.525" fill="#40665f"/><polygon points="-0.621,0.167 -0.674,0.185 -0.682,0.238 -0.752,0.187 -0.803,0.218 -0.821,0.149 -0.877,0.144 -0.854,0.102 -0.900,0.056 -0.835,0.054 -0.823,0.008 -0.779,0.043 -0.719,0.005 -0.702,0.062 -0.617,0.074 -0.647,0.117" fill="#40665f"/><polygon points="-0.040,-0.664 0.012,-0.684 0.018,-0.737 0.090,-0.690 0.139,-0.722 0.160,-0.654 0.216,-0.651 0.195,-0.609 0.243,-0.564 0.178,-0.560 0.168,-0.514 0.122,-0.546 0.063,-0.506 0.045,-0.562 -0.041,-0.571 -0.013,-0.616" fill="#40665f"/><polygon points="0.008,-0.306 0.073,-0.203 0.252,-0.268 0.218,-0.154 0.356,-0.084 0.263,0.007 0.310,0.142 0.147,0.135 0.116,0.356 0.027,0.371 -0.031,0.164 -0.132,0.141 -0.315,0.182 -0.249,0.054 -0.359,-0.065 -0.220,-0.122 -0.253,-0.262 -0.102,-0.195" fill="#fff"/><polygon points="-0.315,-0.277 -0.271,-0.259 -0.235,-0.288 -0.219,-0.216 -0.169,-0.207 -0.198,-0.153 -0.165,-0.117 -0.204,-0.104 -0.201,-0.048 -0.244,-0.084 -0.278,-0.062 -0.287,-0.109 -0.347,-0.119 -0.324,-0.164 -0.372,-0.220 -0.327,-0.231" fill="#40665f"/><polygon points="0.358,-0.233 0.360,-0.197 0.391,-0.184 0.347,-0.148 0.357,-0.111 0.311,-0.112 0.298,-0.078 0.277,-0.099 0.240,-0.077 0.250,-0.119 0.224,-0.133 0.253,-0.155 0.241,-0.199 0.279,-0.200 0.301,-0.251 0.323,-0.225" fill="#40665f"/></g><g id="trs1"><polygon points="0.992,0.101 0.810,0.134 0.937,0.442 0.682,0.460 0.744,0.643 0.548,0.583 0.436,0.925 0.233,0.799 0.117,0.928 -0.008,0.826 -0.246,0.891 -0.268,0.759 -0.570,0.850 -0.476,0.652 -0.857,0.562 -0.735,0.441 -0.897,0.285 -0.843,0.220 -0.946,-0.024 -0.856,-0.075 -0.850,-0.439 -0.725,-0.433 -0.754,-0.693 -0.606,-0.638 -0.421,-0.826 -0.299,-0.741 -0.101,-0.984 -0.037,-0.814 0.239,-0.932 0.334,-0.743 0.524,-0.759 0.612,-0.626 0.831,-0.621 0.702,-0.364 0.972,-0.321 0.838,-0.127" fill="#40665f"/><polygon points="0.585,-0.232 0.671,-0.247 0.700,-0.327 0.792,-0.230 0.879,-0.264 0.885,-0.152 0.969,-0.129 0.921,-0.070 0.977,0.014 0.877,0.000 0.845,0.069 0.788,0.003 0.684,0.046 0.677,-0.047 0.549,-0.087 0.609,-0.148" fill="#227a52"/><polygon points="0.242,0.547 0.316,0.535 0.342,0.466 0.420,0.551 0.495,0.523 0.498,0.619 0.570,0.640 0.528,0.690 0.575,0.763 0.489,0.750 0.461,0.808 0.413,0.751 0.323,0.787 0.318,0.707 0.210,0.670 0.262,0.619" fill="#227a52"/><polygon points="-0.031,0.564 0.051,0.588 0.110,0.530 0.149,0.655 0.239,0.663 0.196,0.763 0.259,0.820 0.192,0.850 0.205,0.948 0.123,0.893 0.066,0.939 0.044,0.857 -0.065,0.850 -0.031,0.765 -0.125,0.675 -0.046,0.648" fill="#227a52"/><polygon points="-0.475,0.245 -0.527,0.304 -0.502,0.376 -0.621,0.360 -0.663,0.432 -0.730,0.357 -0.801,0.388 -0.801,0.320 -0.887,0.292 -0.809,0.246 -0.825,0.180 -0.748,0.194 -0.700,0.106 -0.643,0.167 -0.531,0.124 -0.539,0.200" fill="#227a52"/><polygon points="-0.472,-0.287 -0.563,-0.305 -0.622,-0.235 -0.677,-0.367 -0.777,-0.366 -0.741,-0.480 -0.816,-0.535 -0.746,-0.576 -0.770,-0.682 -0.675,-0.629 -0.617,-0.686 -0.584,-0.598 -0.465,-0.602 -0.493,-0.507 -0.381,-0.417 -0.464,-0.380" fill="#227a52"/><polygon points="0.099,-0.558 0.032,-0.589 -0.026,-0.547 -0.044,-0.658 -0.121,-0.676 -0.071,-0.757 -0.118,-0.813 -0.057,-0.831 -0.056,-0.917 0.007,-0.859 0.063,-0.891 0.071,-0.818 0.164,-0.799 0.124,-0.731 0.193,-0.641 0.123,-0.628" fill="#227a52"/><polygon points="0.213,-0.553 0.212,-0.631 0.145,-0.668 0.245,-0.736 0.227,-0.818 0.328,-0.808 0.360,-0.879 0.405,-0.828 0.489,-0.866 0.462,-0.778 0.518,-0.740 0.451,-0.699 0.475,-0.600 0.391,-0.607 0.337,-0.500 0.291,-0.562" fill="#227a52"/><polygon points="0.615,-0.195 0.633,-0.123 0.703,-0.104 0.627,-0.019 0.661,0.053 0.566,0.065 0.552,0.138 0.499,0.101 0.430,0.155 0.436,0.068 0.375,0.045 0.427,-0.008 0.384,-0.093 0.463,-0.106 0.489,-0.217 0.545,-0.170" fill="#227a52"/><polygon points="0.200,0.618 0.135,0.658 0.138,0.733 0.032,0.685 -0.027,0.741 -0.069,0.652 -0.145,0.661 -0.126,0.598 -0.199,0.548 -0.113,0.526 -0.110,0.460 -0.042,0.494 0.028,0.425 0.065,0.498 0.181,0.489 0.153,0.558" fill="#227a52"/><polygon points="-0.614,-0.194 -0.614,-0.256 -0.667,-0.286 -0.588,-0.338 -0.601,-0.403 -0.522,-0.393 -0.496,-0.449 -0.461,-0.408 -0.395,-0.437 -0.417,-0.369 -0.373,-0.338 -0.426,-0.306 -0.408,-0.229 -0.474,-0.235 -0.518,-0.151 -0.553,-0.201" fill="#227a52"/><polygon points="-0.194,-0.588 -0.144,-0.624 -0.150,-0.684 -0.061,-0.650 -0.016,-0.698 0.022,-0.628 0.083,-0.638 0.070,-0.586 0.131,-0.549 0.063,-0.528 0.063,-0.474 0.006,-0.499 -0.047,-0.440 -0.080,-0.497 -0.174,-0.485 -0.154,-0.542" fill="#227a52"/><polygon points="0.203,0.460 0.227,0.510 0.281,0.511 0.239,0.587 0.275,0.634 0.209,0.660 0.211,0.716 0.167,0.698 0.127,0.750 0.117,0.685 0.070,0.679 0.099,0.631 0.054,0.576 0.109,0.553 0.110,0.466 0.157,0.491" fill="#40665f"/><polygon points="-0.556,-0.491 -0.535,-0.543 -0.570,-0.584 -0.485,-0.603 -0.475,-0.661 -0.411,-0.629 -0.370,-0.668 -0.354,-0.623 -0.289,-0.628 -0.330,-0.577 -0.304,-0.538 -0.359,-0.528 -0.370,-0.457 -0.424,-0.483 -0.489,-0.426 -0.502,-0.478" fill="#40665f"/><polygon points="0.479,-0.543 0.531,-0.522 0.572,-0.556 0.591,-0.472 0.649,-0.461 0.617,-0.397 0.655,-0.356 0.611,-0.340 0.614,-0.275 0.564,-0.317 0.525,-0.291 0.515,-0.346 0.445,-0.358 0.470,-0.411 0.414,-0.476 0.466,-0.489" fill="#40665f"/><polygon points="0.506,-0.338 0.561,-0.341 0.584,-0.389 0.637,-0.320 0.695,-0.335 0.692,-0.264 0.744,-0.242 0.710,-0.209 0.741,-0.152 0.677,-0.169 0.653,-0.128 0.620,-0.174 0.552,-0.156 0.553,-0.215 0.474,-0.251 0.516,-0.284" fill="#40665f"/><polygon points="0.409,0.637 0.375,0.681 0.397,0.730 0.310,0.726 0.284,0.779 0.232,0.731 0.182,0.757 0.179,0.710 0.115,0.697 0.168,0.659 0.153,0.615 0.209,0.619 0.239,0.555 0.284,0.593 0.362,0.556 0.360,0.610" fill="#40665f"/><polygon points="0.014,-0.330 0.082,-0.226 0.268,-0.288 0.272,-0.157 0.388,-0.075 0.327,0.018 0.351,0.163 0.158,0.158 0.159,0.421 0.029,0.423 -0.021,0.188 -0.134,0.134 -0.366,0.194 -0.303,0.069 -0.391,-0.074 -0.265,-0.115 -0.299,-0.309 -0.104,-0.210" fill="#fff"/><polygon points="-0.357,-0.314 -0.307,-0.293 -0.266,-0.326 -0.248,-0.245 -0.192,-0.234 -0.224,-0.173 -0.187,-0.133 -0.231,-0.118 -0.228,-0.055 -0.277,-0.095 -0.315,-0.070 -0.325,-0.123 -0.393,-0.134 -0.367,-0.186 -0.421,-0.249 -0.371,-0.262" fill="#40665f"/><polygon points="0.405,-0.264 0.407,-0.224 0.443,-0.208 0.393,-0.168 0.404,-0.126 0.353,-0.126 0.338,-0.088 0.314,-0.112 0.272,-0.088 0.284,-0.134 0.254,-0.151 0.287,-0.176 0.273,-0.226 0.316,-0.226 0.341,-0.285 0.366,-0.255" fill="#40665f"/></g></defs>
<rect width="600" height="600" fill="#fff"/>
<!-- roads -->
<g fill="none" stroke="#1c1c1c" stroke-width="1">
<path d="M0,292.4 C3.3,291.8 13.8,290.0 20,289 C26.2,288.0 30.3,287.4 37,286.4 C43.7,285.4 51.2,284.1 60,283 C68.8,281.9 80.0,280.5 90,279.6 C100.0,278.7 110.0,278.3 120,277.6 C130.0,276.9 140.0,276.2 150,275.6 C160.0,275.0 168.3,274.4 180,274 C191.7,273.6 206.7,273.5 220,273.4 C233.3,273.3 248.7,273.4 260,273.6 C271.3,273.8 281.3,274.1 288,274.4 C294.7,274.7 289.7,274.8 300,275.6 C310.3,276.5 337.5,278.5 350,279.5 C362.5,280.5 366.7,280.8 375,281.5 C383.3,282.2 387.5,282.6 400,284 C412.5,285.4 433.3,287.6 450,290 C466.7,292.4 487.5,296.2 500,298.5 C512.5,300.8 515.0,301.8 525,304 C535.0,306.2 548.2,308.9 560,311.5 C571.8,314.1 590.0,318.2 596,319.5"/>
<path d="M37,286.4 L101,255.8 L201,253.8 L250,265.5 L288,274.3"/>
<path d="M2,320 C6.7,319.3 20.3,316.9 30,315.6 C39.7,314.3 51.3,313.0 60,312 C68.7,311.0 75.3,310.3 82,309.6 C88.7,308.9 90.3,308.7 100,308 C109.7,307.3 126.7,306.0 140,305.5 C153.3,305.0 164.2,305.1 180,305 C195.8,304.9 225.8,304.9 235,304.9"/>
<path d="M235,304.9 C235.5,305.0 236.8,304.8 238,305.4 C239.2,306.0 240.0,307.6 242,308.4 C244.0,309.2 246.7,309.6 250,310 C253.3,310.4 258.7,310.7 262,311 C265.3,311.3 268.0,311.5 270,312 C272.0,312.5 272.5,312.9 274,314 C275.5,315.1 277.3,317.0 279,318.5 C280.7,320.0 281.2,320.9 284,323 C286.8,325.1 291.7,328.5 296,331 C300.3,333.5 304.3,335.5 310,338 C315.7,340.5 323.3,343.4 330,346 C336.7,348.6 342.5,350.3 350,353.5 C357.5,356.7 366.7,360.6 375,365 C383.3,369.4 393.8,375.7 400,380 C406.2,384.3 407.8,386.8 412,391 C416.2,395.2 421.7,400.7 425,405.5 C428.3,410.3 430.8,417.6 432,420"/>
<path d="M303,308.6 C307.5,308.8 322.2,309.0 330,309.6 C337.8,310.2 342.5,311.3 350,312.3 C357.5,313.3 366.7,314.4 375,315.5 C383.3,316.6 393.8,318.0 400,319 C406.2,320.0 409.0,320.1 412.5,321.3 C416.0,322.5 418.5,324.1 421,326 C423.5,327.9 425.5,330.0 427.5,332.5 C429.5,335.0 431.3,338.1 433,341 C434.7,343.9 436.3,347.2 437.5,350 C438.7,352.8 439.7,355.3 440.3,358 C440.9,360.7 441.0,362.7 441,366 C441.0,369.3 440.9,373.8 440.5,378 C440.1,382.2 439.0,389.2 438.7,391.5"/>
<path d="M303,308.6 C304.2,309.3 306.3,311.1 310,313 C313.7,314.9 318.3,317.2 325,320 C331.7,322.8 341.7,326.2 350,329.5 C358.3,332.8 366.7,336.2 375,340 C383.3,343.8 393.8,349.2 400,352.5 C406.2,355.8 408.7,357.5 412,360 C415.3,362.5 417.2,364.5 420,367.5 C422.8,370.5 426.5,374.9 429,378 C431.5,381.1 433.4,383.8 435,386 C436.6,388.2 438.1,390.6 438.7,391.5"/>
<path d="M428.7,520 C428.2,522.2 426.8,528.8 425.5,533 C424.2,537.2 423.2,540.8 421,545 C418.8,549.2 415.5,553.8 412,558 C408.5,562.2 404.0,566.5 400,570 C396.0,573.5 392.2,576.3 388,579 C383.8,581.7 379.3,583.7 375,586 C370.7,588.3 366.2,590.8 362,593 C357.8,595.2 352.0,598.0 350,599"/>
</g>
<!-- compound -->
<polygon points="58.3,327.5 150.8,339.2 150.8,345.8 67.5,335.8 93.3,404 259.2,427.5 259.2,435.8 85.8,410.8" fill="#a5a5a5"/>
<path d="M150.8,342.7 L271,364 L261,427" fill="none" stroke="#1c1c1c" stroke-width="1"/>
<polygon points="206.5,364.2 230.8,368.3 225.5,408.3 200.2,404.5" fill="#a6a6a6" stroke="#151515" stroke-width="2.6" stroke-linejoin="miter"/>
<!-- bridge rails -->
<g fill="none" stroke="#a5a5a5" stroke-width="8.5" stroke-linejoin="miter">
<path d="M424.3,418.7 L437.2,434.5 L431.7,511.5 L419,525.3"/>
<path d="M474,422 L466,435 L460.5,512 L474.7,529.3"/>
</g>
<path d="M596,356 C592.5,355.2 582.7,352.8 575,351 C567.3,349.2 558.3,347.0 550,345 C541.7,343.0 532.1,340.5 525,338.8 C517.9,337.1 511.7,335.4 507.5,334.6 C503.3,333.8 502.5,333.8 500,333.8 C497.5,333.8 495.3,333.8 492.5,334.5 C489.7,335.2 485.9,336.4 483,338 C480.1,339.6 477.2,341.5 475,344 C472.8,346.5 470.9,349.5 469.5,353 C468.1,356.5 467.2,360.5 466.5,365 C465.8,369.5 465.6,374.2 465.3,380 C465.0,385.8 464.9,394.2 464.6,400 C464.4,405.8 464.1,410.0 463.8,415 C463.5,420.0 463.1,426.7 462.7,430 C462.3,433.3 462.4,420.9 461.3,434.7 C460.2,448.5 457.2,497.7 456.2,512.7 C455.2,527.8 455.6,520.8 455.2,525 C454.8,529.2 454.5,533.7 453.5,538 C452.5,542.3 450.8,546.9 449,551 C447.2,555.1 445.0,558.8 442.5,562.5 C440.0,566.2 436.9,570.2 434,573.5 C431.1,576.8 428.0,579.6 425,582.5 C422.0,585.4 418.9,588.1 416,591 C413.1,593.9 408.9,598.5 407.5,600" fill="none" stroke="#1c1c1c" stroke-width="1"/>
<!-- dimension -->
<g fill="none" stroke="#1c1c1c" stroke-width="1">
<path d="M86.5,243 L225,242.5"/>
<path d="M95.2,230.4 L93,256"/>
<path d="M218,229 L216,255"/>
</g>
<g fill="none" stroke="#1c1c1c" stroke-width="1.5">
<path d="M88.3,250.4 L99.6,236.7"/>
<path d="M211,249 L223,235"/>
</g>
<!-- symbols -->
<circle cx="92" cy="321" r="10" fill="#151515"/>
<rect x="212" y="306" width="12.5" height="25" fill="#151515"/>
<!-- arrows -->
<path d="M68,299.6 L24,305.3" stroke="#151515" stroke-width="2.3" fill="none"/>
<polygon points="7.5,307.8 25.8,296.5 24.6,305 28,314" fill="#151515"/>
<path d="M532.3,324.4 L573,334.2" stroke="#151515" stroke-width="2.3" fill="none"/>
<polygon points="588.8,338.1 571.5,325.3 572.8,334.3 567.5,341.9" fill="#151515"/>
<!-- blue arrow -->
<path d="M87.5,484 C93,482.6 103,481 111.4,481.1 C116,481.3 119.5,482.5 122.4,484.3 C127,487 130,490 133.4,492.5 C138,496 141,498.5 144.4,499.9 C147,501 149,501.8 151.7,502 L161.8,502" stroke="#28187a" stroke-width="3.3" fill="none"/>
<polygon points="68.8,481.9 91.6,477.5 87.3,484.3 87.9,494.7" fill="#28187a"/>
<!-- spike -->
<polygon points="373.8,384.5 376.4,384.5 378,408 371.5,408" fill="#40665f"/>
<!-- trees -->
<use href="#tr0" transform="translate(45,52) scale(24.84,22.68) rotate(0)"/>\n<use href="#tr1" transform="translate(71,30) scale(25.38,23.76) rotate(-10)"/>\n<use href="#tr2" transform="translate(117,42) scale(24.30,23.76) rotate(10)"/>\n<use href="#tr3" transform="translate(154,71) scale(25.92,24.30) rotate(30)"/>\n<use href="#tr4" transform="translate(98,88.5) scale(21.60,19.98) rotate(-20)"/>\n<use href="#trs1" transform="translate(48.5,117.5) scale(17.82,16.74) rotate(-20)"/>\n<use href="#tr1" transform="translate(103,128.5) scale(21.60,19.98) rotate(-30)"/>\n<use href="#tr2" transform="translate(142.5,125) scale(22.14,21.60) rotate(20)"/>\n<use href="#tr3" transform="translate(80,175) scale(24.84,23.76) rotate(-20)"/>\n<use href="#tr4" transform="translate(157,172.5) scale(27.00,24.30) rotate(0)"/>\n<use href="#tr0" transform="translate(184,129.5) scale(20.52,18.90) rotate(20)"/>\n<use href="#tr1" transform="translate(211,116.5) scale(20.52,17.82) rotate(-20)"/>\n<use href="#tr2" transform="translate(200,163.5) scale(19.44,19.98) rotate(20)"/>\n<use href="#tr3" transform="translate(227,57.5) scale(27.00,26.46) rotate(-10)"/>\n<use href="#tr4" transform="translate(277,54) scale(21.60,18.90) rotate(-20)"/>\n<use href="#tr0" transform="translate(317,68.5) scale(21.60,19.98) rotate(-20)"/>\n<use href="#tr1" transform="translate(265,89) scale(21.60,18.90) rotate(10)"/>\n<use href="#tr2" transform="translate(293,113) scale(25.38,25.38) rotate(10)"/>\n<use href="#tr3" transform="translate(331.5,105) scale(19.98,18.36) rotate(-20)"/>\n<use href="#trs0" transform="translate(253,145.5) scale(27.00,24.30) rotate(-10)"/>\n<use href="#tr0" transform="translate(309.5,151) scale(18.90,17.28) rotate(-20)"/>\n<use href="#tr1" transform="translate(283.5,201) scale(23.22,22.68) rotate(20)"/>\n<use href="#tr2" transform="translate(363,76) scale(27.00,24.30) rotate(10)"/>\n<use href="#tr3" transform="translate(403.5,68.5) scale(19.98,17.82) rotate(-20)"/>\n<use href="#tr4" transform="translate(416,17.5) scale(20.52,17.28) rotate(-30)"/>\n<use href="#tr0" transform="translate(455,40.5) scale(21.60,18.90) rotate(20)"/>\n<use href="#tr1" transform="translate(431,50) scale(19.44,19.44) rotate(-20)"/>\n<use href="#tr2" transform="translate(368,133.5) scale(21.60,19.98) rotate(-10)"/>\n<use href="#tr3" transform="translate(403.5,123.5) scale(19.98,17.82) rotate(30)"/>\n<use href="#tr4" transform="translate(400,151.5) scale(21.60,19.98) rotate(30)"/>\n<use href="#tr0" transform="translate(451,149.5) scale(22.68,18.90) rotate(20)"/>\n<use href="#tr1" transform="translate(401,198) scale(28.08,24.84) rotate(-20)"/>\n<use href="#tr2" transform="translate(491.5,65) scale(17.82,16.20) rotate(20)"/>\n<use href="#tr3" transform="translate(485,91) scale(24.84,22.68) rotate(20)"/>\n<use href="#tr4" transform="translate(516.5,91.5) scale(19.98,17.82) rotate(10)"/>\n<use href="#tr0" transform="translate(563,73) scale(27.54,23.76) rotate(-20)"/>\n<use href="#tr1" transform="translate(555,115.5) scale(21.60,18.90) rotate(-10)"/>\n<use href="#tr2" transform="translate(531.5,125) scale(19.98,19.44) rotate(-20)"/>\n<use href="#tr3" transform="translate(502.5,142.5) scale(18.90,16.74) rotate(20)"/>\n<use href="#tr4" transform="translate(483.5,185.5) scale(19.98,18.90) rotate(-30)"/>\n<use href="#tr0" transform="translate(513,197.5) scale(21.60,21.06) rotate(-10)"/>\n<use href="#tr1" transform="translate(493.5,237) scale(25.38,21.60) rotate(0)"/>\n<use href="#tr2" transform="translate(542,240) scale(27.00,24.84) rotate(10)"/>\n<use href="#tr3" transform="translate(50,390) scale(23.76,21.60) rotate(-10)"/>\n<use href="#tr4" transform="translate(22.5,416.5) scale(21.06,17.82) rotate(20)"/>\n<use href="#tr0" transform="translate(70,445.5) scale(18.90,16.74) rotate(-20)"/>\n<use href="#tr1" transform="translate(111,437.5) scale(20.52,16.20) rotate(20)"/>\n<use href="#tr2" transform="translate(117,465) scale(19.44,16.20) rotate(0)"/>\n<use href="#tr3" transform="translate(155,465) scale(20.52,17.28) rotate(20)"/>\n<use href="#tr4" transform="translate(197,465) scale(17.28,16.20) rotate(-30)"/>\n<use href="#tr0" transform="translate(225,451) scale(17.28,16.20) rotate(30)"/>\n<use href="#tr1" transform="translate(260,457.5) scale(21.60,21.06) rotate(-10)"/>\n<use href="#tr2" transform="translate(270,431.5) scale(12.96,14.58) rotate(-20)"/>\n<use href="#tr3" transform="translate(305,397.5) scale(19.98,17.28) rotate(20)"/>\n<use href="#tr4" transform="translate(333,417.5) scale(18.36,17.28) rotate(20)"/>\n<use href="#tr0" transform="translate(304.5,436) scale(21.06,17.28) rotate(30)"/>\n<use href="#tr1" transform="translate(307,462.5) scale(18.36,17.82) rotate(-10)"/>\n<use href="#tr2" transform="translate(360,440.5) scale(18.90,18.36) rotate(0)"/>\n<use href="#tr3" transform="translate(381,419.5) scale(21.60,16.74) rotate(-20)"/>\n<use href="#tr4" transform="translate(395.5,451.5) scale(21.06,18.90) rotate(20)"/>
<!-- river -->
<g fill="none" stroke="#1c1c1c" stroke-width="1">
<path d="M2,437.5 C4.7,438.8 20.6,446.5 25,449 C29.4,451.5 35.3,457.6 40,459 C44.7,460.4 59.5,460.6 65,461 C70.5,461.4 83.4,461.9 87.5,462.5 C91.6,463.1 95.6,464.7 100,466 C104.4,467.3 119.2,472.2 125,474 C130.8,475.8 144.8,479.8 150,481 C155.2,482.2 163.9,483.1 170,484 C176.1,484.9 195.2,488.3 202.5,489 C209.8,489.7 224.6,489.9 232.5,490 C240.4,490.1 259.8,490.4 270,489.5 C280.2,488.6 308.3,484.2 320,482.5 C331.7,480.8 361.8,476.5 370,475 C378.2,473.5 386.3,471.3 390,470 C393.7,468.7 399.7,465.1 402,464 C404.3,462.9 408.1,462.0 410,460.7 C411.9,459.4 416.2,454.1 418,452.7 C419.8,451.3 423.4,449.7 425,449 C426.6,448.3 430.6,447.0 431.3,446.7"/>
<path d="M2,487 C6.4,487.1 31.5,487.1 40,488 C48.5,488.9 66.5,493.1 75,495 C83.5,496.9 103.8,502.2 112.5,504 C121.2,505.8 143.3,509.5 150,510.5 C156.7,511.5 164.8,512.0 170,512.5 C175.2,513.0 183.3,514.6 195,515 C206.7,515.4 256.9,515.8 270,515.5 C283.1,515.2 300.5,513.6 307.5,512.5 C314.5,511.4 325.6,507.3 330,506 C334.4,504.7 339.8,501.8 345,501 C350.2,500.2 367.4,499.6 375,499.5 C382.6,499.4 403.8,500.3 410,500.3 C416.2,500.3 425.9,499.4 428,499.3"/>
<path d="M469.3,453 C471.7,453.0 485.8,453.1 490,453.3 C494.2,453.5 500.9,454.2 505,454.5 C509.1,454.8 521.7,455.5 525,456 C528.3,456.5 531.1,458.0 533,458.5 C534.9,459.0 539.1,460.6 541,460.5 C542.9,460.4 546.8,458.8 549,458 C551.2,457.2 557.5,454.1 560,453.5 C562.5,452.9 565.3,452.6 570,452.5 C574.7,452.4 596.5,452.9 600,453"/>
<path d="M465.3,494 C467.0,493.7 477.1,492.0 480,491.5 C482.9,491.0 488.0,489.8 490,489.3 C492.0,488.8 495.8,488.2 497.5,487.5 C499.2,486.8 503.7,484.1 505,483.5 C506.3,482.9 507.8,481.9 509,482 C510.2,482.1 513.4,483.5 515,484 C516.6,484.5 517.5,485.9 522.5,486.3 C527.5,486.7 552.4,486.5 557.5,487 C562.6,487.5 564.0,490.1 566,491 C568.0,491.9 572.8,494.5 575,495 C577.2,495.5 582.1,495.1 585,495 C587.9,494.9 598.2,494.1 600,494"/>
</g>
<!-- text -->
<g style="font-family:'Liberation Sans',sans-serif" fill="#151515" stroke="#151515" stroke-width="0.5" stroke-linejoin="round">
<text transform="translate(121.4,273.4) rotate(0) scale(1.05,1)" font-size="23.3" font-weight="bold" fill="#e17c21" stroke="#e17c21" stroke-width="0.15">BUS</text>
<text transform="translate(85,303.8) rotate(-3.7) scale(1.085,1)" font-size="27.4">Naturno</text>
<text transform="translate(237.8,298.5) rotate(0.4) scale(1.07,1)" font-size="27.5">SP 3</text>
<text transform="translate(105.4,329.9) rotate(8.4) scale(1.04,1)" font-size="28" font-weight="bold" font-style="italic">CSO</text>
<text transform="translate(227.3,344) rotate(7.0) scale(1.09,1)" font-size="27.5">Km 5</text>
<text transform="translate(372.6,308.6) rotate(8.5) scale(1.003,1)" font-size="29.5">Maso Corto</text>
<text transform="translate(97,366.2) rotate(6.6) scale(1.0,1)" font-size="23.5">Vecchia</text>
<text transform="translate(94.8,392) rotate(7.4) scale(1.0,1)" font-size="23.5">teleferica</text>
<text transform="translate(282,509.8) rotate(-10.5) scale(0.982,1)" font-size="24.3">Rio Senales</text>
<polygon stroke="none" points="147.4,214 150,214 150.7,234.6 148,234.6"/>
<polygon stroke="none" points="147.4,214 149.2,216.2 142.4,222 141.2,219.8"/>
<polygon stroke="none" points="161.3,213.7 163.9,213.7 164.5,234.2 161.9,234.2"/>
<polygon stroke="none" points="161.3,213.7 163.1,215.9 156.4,221.6 155.2,219.4"/>
</g>
</svg>
</body></html>
